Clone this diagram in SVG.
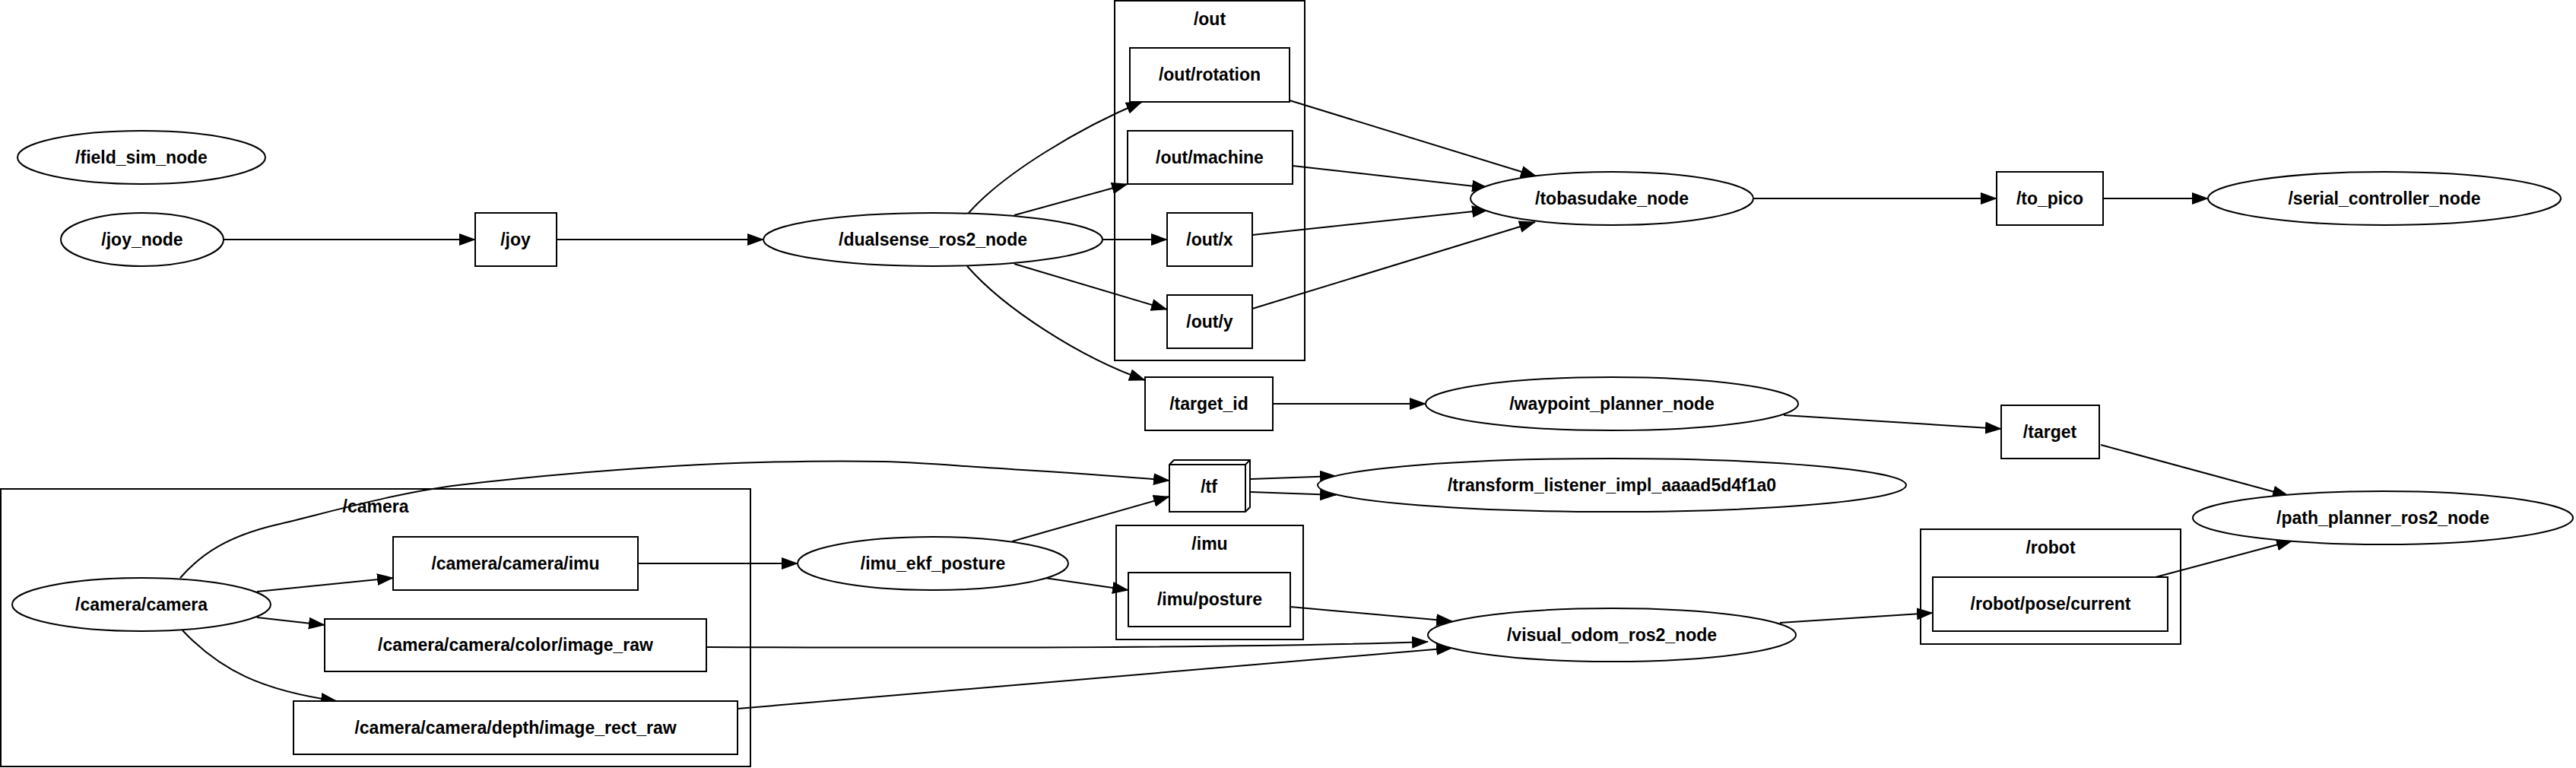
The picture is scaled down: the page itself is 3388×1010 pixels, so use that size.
<svg xmlns="http://www.w3.org/2000/svg" width="3388" height="1010" viewBox="0 0 3388 1010">
<defs>
<style>
.n{fill:#fff;stroke:#000;stroke-width:2}
.c{fill:none;stroke:#000;stroke-width:2}
.e{fill:none;stroke:#000;stroke-width:2;marker-end:url(#ah)}
text{font-family:"Liberation Sans",Arial,sans-serif;font-weight:bold;font-size:23px;text-anchor:middle;fill:#000}
</style>
<marker id="ah" markerUnits="userSpaceOnUse" markerWidth="22" markerHeight="16" refX="21" refY="8" orient="auto">
<path d="M0,0 L22,8 L0,16 Z" fill="#000"/>
</marker>
</defs>
<rect width="3388" height="1010" fill="#fff"/>

<g id="cluster_out"><rect class="c" x="1466" y="1" width="250" height="473"/><text x="1591" y="33">/out</text></g>
<g id="cluster_camera"><rect class="c" x="1" y="643" width="986" height="365"/><text x="494" y="674">/camera</text></g>
<g id="cluster_imu"><rect class="c" x="1468" y="691" width="246" height="150"/><text x="1591" y="723">/imu</text></g>
<g id="cluster_robot"><rect class="c" x="2526" y="696" width="342" height="151"/><text x="2697" y="728">/robot</text></g>

<g id="edges">
<path class="e" d="M294,315 L625,315"/>
<path class="e" d="M732,315 L1004,315"/>
<path class="e" d="M1274,280 C1320,228 1420,168 1502,134"/>
<path class="e" d="M1334,283 L1483,242"/>
<path class="e" d="M1450,315 L1535,315"/>
<path class="e" d="M1334,347 L1535,407"/>
<path class="e" d="M1272,350 C1320,405 1420,470 1506,500"/>
<path class="e" d="M1696,132 L2021,232"/>
<path class="e" d="M1700,218 L1957,247"/>
<path class="e" d="M1647,309 L1957,276"/>
<path class="e" d="M1647,406 L2019,292"/>
<path class="e" d="M2307,261 L2626,261"/>
<path class="e" d="M2766,261 L2904,261"/>
<path class="e" d="M1674,531 L1875,531"/>
<path class="e" d="M2346,546 L2632,564"/>
<path class="e" d="M2763,585 L3010,652"/>
<path class="e" d="M338,778 L517,760"/>
<path class="e" d="M338,812 L427,822"/>
<path class="e" d="M240,829 C290,882 345,908 443,922"/>
<path class="e" d="M237,760 C265,728 300,705 364,690 S520,648 603,638 S850,612 1000,608 S1200,608 1269,613 S1450,624 1538,632"/>
<path class="e" d="M839,741 L1049,741"/>
<path class="e" d="M929,851 C1400,853 1700,850 1878,844"/>
<path class="e" d="M970,932 L1910,852"/>
<path class="e" d="M1331,712 L1538,653"/>
<path class="e" d="M1374,760 L1484,776"/>
<path class="e" d="M1697,798 L1910,817"/>
<path class="e" d="M1645,630 L1757,626"/>
<path class="e" d="M1645,647 L1757,651"/>
<path class="e" d="M2341,819 L2542,806"/>
<path class="e" d="M2835,759 L3015,711"/>
</g>

<g id="field_sim_node"><ellipse class="n" cx="186" cy="207" rx="163" ry="35"/><text x="186" y="215">/field_sim_node</text></g>
<g id="joy_node"><ellipse class="n" cx="187" cy="315" rx="107" ry="35"/><text x="187" y="323">/joy_node</text></g>
<g id="joy"><rect class="n" x="625" y="280" width="107" height="70"/><text x="678" y="323">/joy</text></g>
<g id="dualsense_ros2_node"><ellipse class="n" cx="1227" cy="315" rx="223" ry="35"/><text x="1227" y="323">/dualsense_ros2_node</text></g>
<g id="out_rotation"><rect class="n" x="1486" y="63" width="210" height="71"/><text x="1591" y="106">/out/rotation</text></g>
<g id="out_machine"><rect class="n" x="1483" y="172" width="217" height="70"/><text x="1591" y="215">/out/machine</text></g>
<g id="out_x"><rect class="n" x="1535" y="280" width="112" height="70"/><text x="1591" y="323">/out/x</text></g>
<g id="out_y"><rect class="n" x="1535" y="388" width="112" height="70"/><text x="1591" y="431">/out/y</text></g>
<g id="tobasudake_node"><ellipse class="n" cx="2120" cy="261" rx="186" ry="35"/><text x="2120" y="269">/tobasudake_node</text></g>
<g id="to_pico"><rect class="n" x="2626" y="226" width="140" height="70"/><text x="2696" y="269">/to_pico</text></g>
<g id="serial_controller_node"><ellipse class="n" cx="3136" cy="261" rx="232" ry="35"/><text x="3136" y="269">/serial_controller_node</text></g>
<g id="target_id"><rect class="n" x="1506" y="496" width="168" height="70"/><text x="1590" y="539">/target_id</text></g>
<g id="waypoint_planner_node"><ellipse class="n" cx="2120" cy="531" rx="245" ry="35"/><text x="2120" y="539">/waypoint_planner_node</text></g>
<g id="target"><rect class="n" x="2632" y="533" width="129" height="70"/><text x="2696" y="576">/target</text></g>
<g id="transform_listener"><ellipse class="n" cx="2120" cy="638" rx="387" ry="35"/><text x="2120" y="646">/transform_listener_impl_aaaad5d4f1a0</text></g>
<g id="path_planner_ros2_node"><ellipse class="n" cx="3134" cy="681" rx="250" ry="35"/><text x="3134" y="689">/path_planner_ros2_node</text></g>
<g id="camera_camera"><ellipse class="n" cx="186" cy="795" rx="170" ry="35"/><text x="186" y="803">/camera/camera</text></g>
<g id="camera_imu"><rect class="n" x="517" y="706" width="322" height="70"/><text x="678" y="749">/camera/camera/imu</text></g>
<g id="camera_color"><rect class="n" x="427" y="814" width="502" height="69"/><text x="678" y="856">/camera/camera/color/image_raw</text></g>
<g id="camera_depth"><rect class="n" x="386" y="922" width="584" height="70"/><text x="678" y="965">/camera/camera/depth/image_rect_raw</text></g>
<g id="imu_ekf_posture"><ellipse class="n" cx="1227" cy="741" rx="178" ry="35"/><text x="1227" y="749">/imu_ekf_posture</text></g>
<g id="tf"><path class="n" d="M1538,611 L1544,605 L1644,605 L1644,667 L1638,673 L1538,673 Z M1538,611 L1638,611 L1644,605 M1638,611 L1638,673"/><text x="1590" y="648">/tf</text></g>
<g id="imu_posture"><rect class="n" x="1484" y="753" width="213" height="71"/><text x="1591" y="796">/imu/posture</text></g>
<g id="visual_odom_ros2_node"><ellipse class="n" cx="2120" cy="835" rx="242" ry="35"/><text x="2120" y="843">/visual_odom_ros2_node</text></g>
<g id="robot_pose_current"><rect class="n" x="2542" y="759" width="309" height="71"/><text x="2697" y="802">/robot/pose/current</text></g>
</svg>
